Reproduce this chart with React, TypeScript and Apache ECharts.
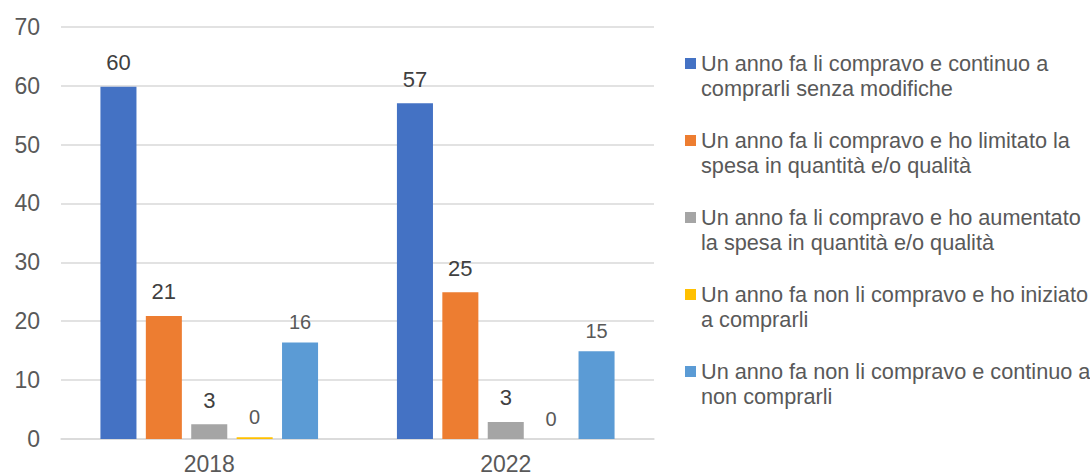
import React, { useEffect, useRef } from "react";
import * as echarts from "echarts";

const categories = ["2018", "2022"];
const seriesNames = [
  "Un anno fa li compravo e continuo a comprarli senza modifiche",
  "Un anno fa li compravo e ho limitato la spesa in quantità e/o qualità",
  "Un anno fa li compravo e ho aumentato la spesa in quantità e/o qualità",
  "Un anno fa non li compravo e ho iniziato a comprarli",
  "Un anno fa non li compravo e continuo a non comprarli",
];
const legendFirstLines = [
  "Un anno fa li compravo e continuo a",
  "Un anno fa li compravo e ho limitato la",
  "Un anno fa li compravo e ho aumentato",
  "Un anno fa non li compravo e ho iniziato",
  "Un anno fa non li compravo e continuo a",
];
const values1 = [59.8, 57.0];
const values2 = [20.9, 24.9];
const values3 = [2.5, 2.9];
const values4 = [0.3, 0];
const values5 = [16.4, 14.9];
const allValues = [values1, values2, values3, values4, values5];
const colors = ["#4472c4", "#ed7d31", "#a5a5a5", "#ffc000", "#5b9bd5"];
const yTicks = { min: 0, max: 70, interval: 10 };

const FONT = "'Liberation Sans', Arial, sans-serif";

export default function App() {
  const ref = useRef<HTMLDivElement>(null);
  useEffect(() => {
    document.body.style.margin = "0";
    const chart = echarts.init(ref.current!, null, { renderer: "svg" });
    const series = allValues.map((vals, i) => ({
      name: seriesNames[i],
      type: "bar",
      data: vals,
      barGap: "26%",
      barCategoryGap: "26.6%",
      itemStyle: { color: colors[i] },
      label: {
        show: true,
        position: "top",
        distance: i < 3 ? 13 : 10,
        fontFamily: FONT,
        fontSize: i < 3 ? 22 : 20,
        color: i < 3 ? "#404040" : "#595959",
        formatter: (p: any) => String(Math.round(p.value)),
      },
    }));
    chart.setOption({
      animation: false,
      textStyle: { fontFamily: FONT },
      grid: { left: 61, right: 436, top: 26.7, bottom: 37, containLabel: false },
      xAxis: {
        type: "category",
        data: categories,
        axisLine: { show: true, lineStyle: { color: "#d9d9d9", width: 1.5 } },
        axisTick: { show: false },
        axisLabel: { fontFamily: FONT, fontSize: 23, color: "#595959", margin: 13 },
      },
      yAxis: {
        type: "value",
        min: yTicks.min,
        max: yTicks.max,
        interval: yTicks.interval,
        axisLine: { show: false },
        axisTick: { show: false },
        splitLine: { lineStyle: { color: "#d9d9d9", width: 1.5 } },
        axisLabel: { fontFamily: FONT, fontSize: 23, color: "#595959", margin: 21 },
      },
      legend: {
        orient: "vertical",
        left: 685,
        top: 26,
        padding: 0,
        itemWidth: 11,
        itemHeight: 11,
        itemGap: 2,
        icon: "rect",
        selectedMode: false,
        formatter: (name: string) => {
          const idx = seriesNames.indexOf(name);
          const first = legendFirstLines[idx];
          return " \n" + first + "\n" + name.slice(first.length + 1);
        },
        textStyle: {
          fontFamily: FONT,
          fontSize: 21.7,
          color: "#595959",
          lineHeight: 25,
        },
      },
      series,
    });
    return () => chart.dispose();
  }, []);
  return <div ref={ref} style={{ width: 1090, height: 476 }} />;
}
